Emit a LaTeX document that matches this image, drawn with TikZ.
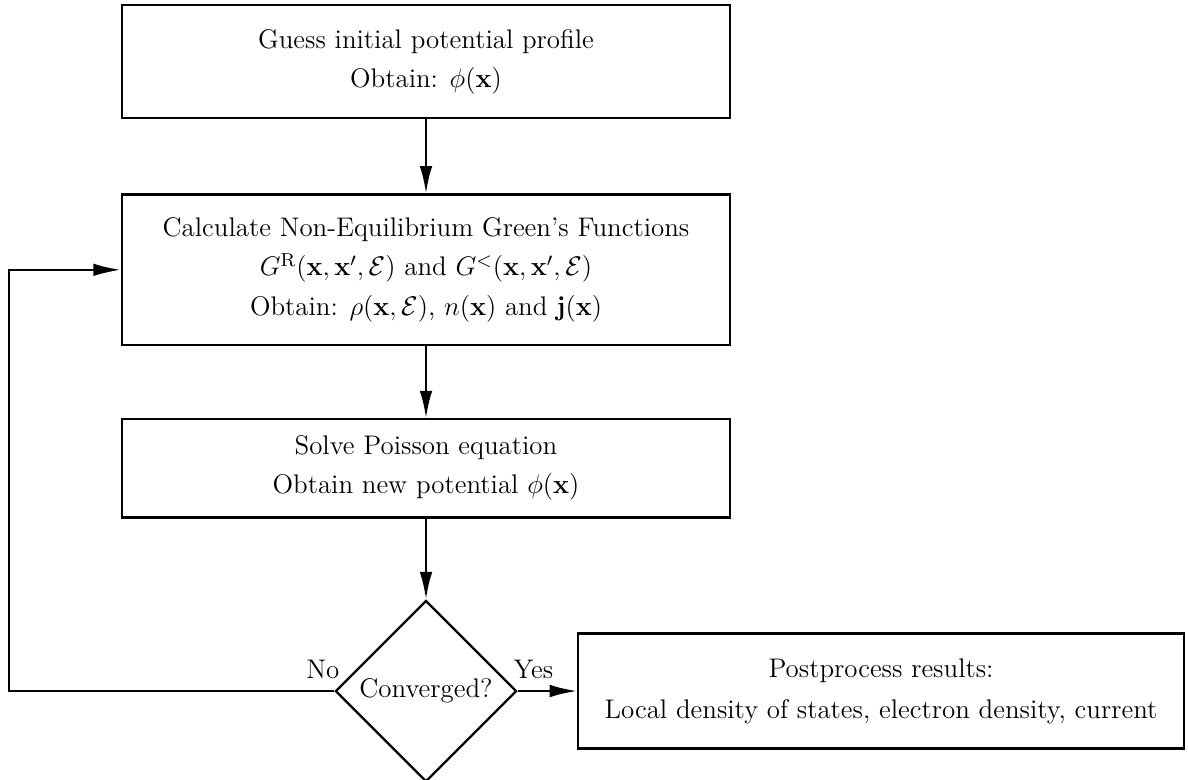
\RequirePackage{fix-cm}
\documentclass[tikz,border=0pt]{standalone}
\usepackage{amsmath,amssymb}
\usetikzlibrary{positioning,shapes.geometric,arrows.meta}
\begin{document}
\begin{tikzpicture}[
    font=\fontsize{12.8}{15.6}\selectfont,
    block/.style={draw,line width=1.1pt,rectangle,minimum width=10.17cm,align=center},
    decision/.style={draw,line width=1.1pt,diamond,minimum size=3.03cm,inner sep=0pt,align=center},
    line/.style={draw,line width=1.1pt,-{Latex[length=13pt,width=6pt]}},
    answer/.style={inner sep=0pt,yshift=6pt}
  ]
  \useasboundingbox (-7.123,1.028) rectangle (12.741,-12.013);

  \node[block,minimum height=1.89cm] (guess) at (0,0) {Guess initial potential profile\\[3pt] Obtain: $\phi(\mathbf{x})$};
  \node[block,minimum height=2.52cm,below=1.24cm of guess] (negf) {Calculate Non-Equilibrium Green's Functions\\[3pt]
    $G^{\mathrm{R}}(\mathbf{x},\mathbf{x}',\mathcal{E})$ and $G^{<}(\mathbf{x},\mathbf{x}',\mathcal{E})$\\[3pt]
    Obtain: $\rho(\mathbf{x},\mathcal{E})$, $n(\mathbf{x})$ and $\mathbf{j}(\mathbf{x})$};
  \node[block,minimum height=1.64cm,below=1.2cm of negf] (poisson) {Solve Poisson equation\\[3pt] Obtain new potential $\phi(\mathbf{x})$};
  \node[decision,below=1.35cm of poisson] (conv) {Converged?};
  \node[block,minimum width=10.13cm,minimum height=1.92cm,right=0.99cm of conv] (post) {Postprocess results:\\[4pt] Local density of states, electron density, current};
  \coordinate (back) at ([xshift=-1.87cm]negf.west);

  \draw[line] (guess) -- (negf);
  \draw[line] (negf) -- (poisson);
  \draw[line] (poisson) -- (conv);
  \draw[line] (conv.east) node[answer,anchor=base west,xshift=-2.5pt] {Yes} -- (post);
  \draw[line] (conv.west) node[answer,anchor=base east,xshift=3pt] {No} -| (back) -- (negf.west);
\end{tikzpicture}
\end{document}
